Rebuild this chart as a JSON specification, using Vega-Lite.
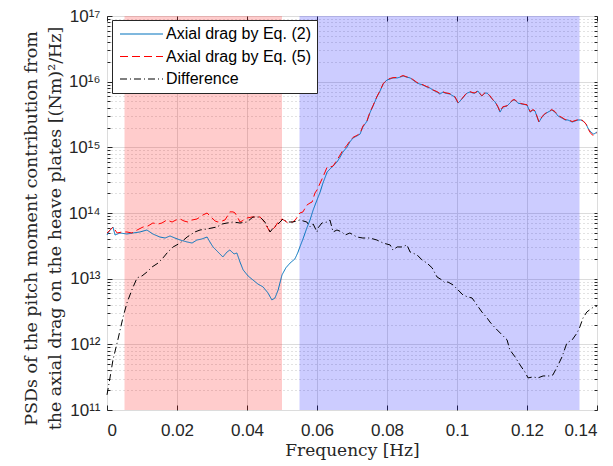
{
"$schema":"https://vega.github.io/schema/vega-lite/v6.json",
"width":490,"height":394,
"autosize":"none",
"padding":{"left":107,"top":16,"right":16,"bottom":56},
"background":"white",
"config":{"view":{"stroke":"#262626","strokeWidth":1},
 "axis":{"labelFont":"Liberation Sans","labelFontSize":17,"labelColor":"#262626","tickColor":"#262626","domain":false,"titleFont":"DejaVu Serif","titleFontSize":17,"titleFontWeight":"normal","titleColor":"#262626"},
 "legend":{"orient":"none","legendX":5,"legendY":4,"title":null,"labelFont":"Liberation Sans","labelFontSize":16,"labelColor":"#000000","strokeColor":"#262626","fillColor":"white","padding":6,"symbolType":"M-4.3,0H4.3","symbolSize":100,"symbolStrokeWidth":1.2,"symbolOffset":15.5,"labelOffset":16.5,"rowPadding":6.5,"cornerRadius":0}},
"datasets":{
"regions":[{"band":"low","start":0.005,"end":0.05},{"band":"high","start":0.055,"end":0.135}],
"psd":[
{"s":"Axial drag by Eq. (2)","f":0,"p":4.62e13},{"s":"Axial drag by Eq. (2)","f":0.0009,"p":5.51e13},{"s":"Axial drag by Eq. (2)","f":0.0017,"p":6.12e13},{"s":"Axial drag by Eq. (2)","f":0.0023,"p":4.62e13},{"s":"Axial drag by Eq. (2)","f":0.0037,"p":4.96e13},{"s":"Axial drag by Eq. (2)","f":0.0057,"p":4.79e13},{"s":"Axial drag by Eq. (2)","f":0.0074,"p":4.96e13},{"s":"Axial drag by Eq. (2)","f":0.0094,"p":5.14e13},{"s":"Axial drag by Eq. (2)","f":0.0114,"p":5.51e13},{"s":"Axial drag by Eq. (2)","f":0.0131,"p":4.79e13},{"s":"Axial drag by Eq. (2)","f":0.0151,"p":4.31e13},{"s":"Axial drag by Eq. (2)","f":0.0166,"p":4.16e13},{"s":"Axial drag by Eq. (2)","f":0.018,"p":4.47e13},{"s":"Axial drag by Eq. (2)","f":0.0194,"p":4.16e13},{"s":"Axial drag by Eq. (2)","f":0.0209,"p":3.88e13},{"s":"Axial drag by Eq. (2)","f":0.0229,"p":3.62e13},{"s":"Axial drag by Eq. (2)","f":0.0243,"p":3.49e13},{"s":"Axial drag by Eq. (2)","f":0.0257,"p":3.88e13},{"s":"Axial drag by Eq. (2)","f":0.0271,"p":4.02e13},{"s":"Axial drag by Eq. (2)","f":0.0286,"p":4.31e13},{"s":"Axial drag by Eq. (2)","f":0.0294,"p":3.62e13},{"s":"Axial drag by Eq. (2)","f":0.0303,"p":3.04e13},{"s":"Axial drag by Eq. (2)","f":0.0317,"p":2.55e13},{"s":"Axial drag by Eq. (2)","f":0.0331,"p":2.14e13},{"s":"Axial drag by Eq. (2)","f":0.0343,"p":2.55e13},{"s":"Axial drag by Eq. (2)","f":0.0351,"p":2.73e13},{"s":"Axial drag by Eq. (2)","f":0.0363,"p":2.38e13},{"s":"Axial drag by Eq. (2)","f":0.0371,"p":2.46e13},{"s":"Axial drag by Eq. (2)","f":0.038,"p":1.79e13},{"s":"Axial drag by Eq. (2)","f":0.0389,"p":1.36e13},{"s":"Axial drag by Eq. (2)","f":0.0403,"p":1.10e13},{"s":"Axial drag by Eq. (2)","f":0.0417,"p":9.55e12},{"s":"Axial drag by Eq. (2)","f":0.0431,"p":8.30e12},{"s":"Axial drag by Eq. (2)","f":0.0446,"p":7.48e12},{"s":"Axial drag by Eq. (2)","f":0.046,"p":6.06e12},{"s":"Axial drag by Eq. (2)","f":0.0471,"p":4.74e12},{"s":"Axial drag by Eq. (2)","f":0.048,"p":5.08e12},{"s":"Axial drag by Eq. (2)","f":0.0489,"p":6.73e12},{"s":"Axial drag by Eq. (2)","f":0.05,"p":1.14e13},{"s":"Axial drag by Eq. (2)","f":0.0511,"p":1.46e13},{"s":"Axial drag by Eq. (2)","f":0.0523,"p":1.73e13},{"s":"Axial drag by Eq. (2)","f":0.0537,"p":2.00e13},{"s":"Axial drag by Eq. (2)","f":0.0546,"p":2.55e13},{"s":"Axial drag by Eq. (2)","f":0.0551,"p":3.04e13},{"s":"Axial drag by Eq. (2)","f":0.056,"p":4.02e13},{"s":"Axial drag by Eq. (2)","f":0.0571,"p":5.92e13},{"s":"Axial drag by Eq. (2)","f":0.058,"p":7.82e13},{"s":"Axial drag by Eq. (2)","f":0.0589,"p":1.11e14},{"s":"Axial drag by Eq. (2)","f":0.06,"p":1.58e14},{"s":"Axial drag by Eq. (2)","f":0.0609,"p":2.09e14},{"s":"Axial drag by Eq. (2)","f":0.0617,"p":2.86e14},{"s":"Axial drag by Eq. (2)","f":0.0629,"p":4.21e14},{"s":"Axial drag by Eq. (2)","f":0.0637,"p":4.67e14},{"s":"Axial drag by Eq. (2)","f":0.0646,"p":5.19e14},{"s":"Axial drag by Eq. (2)","f":0.0657,"p":5.97e14},{"s":"Axial drag by Eq. (2)","f":0.0666,"p":7.11e14},{"s":"Axial drag by Eq. (2)","f":0.0674,"p":8.48e14},{"s":"Axial drag by Eq. (2)","f":0.0686,"p":1.01e15},{"s":"Axial drag by Eq. (2)","f":0.0694,"p":1.21e15},{"s":"Axial drag by Eq. (2)","f":0.0703,"p":1.39e15},{"s":"Axial drag by Eq. (2)","f":0.0714,"p":1.49e15},{"s":"Axial drag by Eq. (2)","f":0.0723,"p":1.59e15},{"s":"Axial drag by Eq. (2)","f":0.0731,"p":2.04e15},{"s":"Axial drag by Eq. (2)","f":0.0743,"p":2.51e15},{"s":"Axial drag by Eq. (2)","f":0.0751,"p":3.33e15},{"s":"Axial drag by Eq. (2)","f":0.076,"p":4.26e15},{"s":"Axial drag by Eq. (2)","f":0.0771,"p":5.83e15},{"s":"Axial drag by Eq. (2)","f":0.078,"p":7.19e15},{"s":"Axial drag by Eq. (2)","f":0.0789,"p":9.19e15},{"s":"Axial drag by Eq. (2)","f":0.0794,"p":9.86e15},{"s":"Axial drag by Eq. (2)","f":0.08,"p":1.06e16},{"s":"Axial drag by Eq. (2)","f":0.0809,"p":1.10e16},{"s":"Axial drag by Eq. (2)","f":0.0817,"p":1.14e16},{"s":"Axial drag by Eq. (2)","f":0.0829,"p":1.14e16},{"s":"Axial drag by Eq. (2)","f":0.0837,"p":1.17e16},{"s":"Axial drag by Eq. (2)","f":0.0846,"p":1.22e16},{"s":"Axial drag by Eq. (2)","f":0.0857,"p":1.17e16},{"s":"Axial drag by Eq. (2)","f":0.0866,"p":1.14e16},{"s":"Axial drag by Eq. (2)","f":0.0874,"p":1.06e16},{"s":"Axial drag by Eq. (2)","f":0.0886,"p":9.53e15},{"s":"Axial drag by Eq. (2)","f":0.0894,"p":9.19e15},{"s":"Axial drag by Eq. (2)","f":0.0903,"p":8.87e15},{"s":"Axial drag by Eq. (2)","f":0.0914,"p":8.28e15},{"s":"Axial drag by Eq. (2)","f":0.0923,"p":8.00e15},{"s":"Axial drag by Eq. (2)","f":0.0931,"p":7.45e15},{"s":"Axial drag by Eq. (2)","f":0.0943,"p":6.95e15},{"s":"Axial drag by Eq. (2)","f":0.0951,"p":6.47e15},{"s":"Axial drag by Eq. (2)","f":0.096,"p":6.95e15},{"s":"Axial drag by Eq. (2)","f":0.0966,"p":6.70e15},{"s":"Axial drag by Eq. (2)","f":0.098,"p":6.47e15},{"s":"Axial drag by Eq. (2)","f":0.0994,"p":5.83e15},{"s":"Axial drag by Eq. (2)","f":0.1003,"p":4.72e15},{"s":"Axial drag by Eq. (2)","f":0.1014,"p":5.43e15},{"s":"Axial drag by Eq. (2)","f":0.1023,"p":6.25e15},{"s":"Axial drag by Eq. (2)","f":0.1029,"p":6.70e15},{"s":"Axial drag by Eq. (2)","f":0.1037,"p":6.95e15},{"s":"Axial drag by Eq. (2)","f":0.1046,"p":6.70e15},{"s":"Axial drag by Eq. (2)","f":0.1051,"p":6.70e15},{"s":"Axial drag by Eq. (2)","f":0.106,"p":7.19e15},{"s":"Axial drag by Eq. (2)","f":0.1066,"p":6.47e15},{"s":"Axial drag by Eq. (2)","f":0.1071,"p":6.04e15},{"s":"Axial drag by Eq. (2)","f":0.108,"p":6.70e15},{"s":"Axial drag by Eq. (2)","f":0.1086,"p":6.70e15},{"s":"Axial drag by Eq. (2)","f":0.1094,"p":6.04e15},{"s":"Axial drag by Eq. (2)","f":0.11,"p":5.43e15},{"s":"Axial drag by Eq. (2)","f":0.1109,"p":4.89e15},{"s":"Axial drag by Eq. (2)","f":0.1117,"p":4.10e15},{"s":"Axial drag by Eq. (2)","f":0.1123,"p":3.44e15},{"s":"Axial drag by Eq. (2)","f":0.1131,"p":4.10e15},{"s":"Axial drag by Eq. (2)","f":0.1143,"p":4.26e15},{"s":"Axial drag by Eq. (2)","f":0.1151,"p":4.72e15},{"s":"Axial drag by Eq. (2)","f":0.116,"p":5.25e15},{"s":"Axial drag by Eq. (2)","f":0.1166,"p":5.25e15},{"s":"Axial drag by Eq. (2)","f":0.1174,"p":4.72e15},{"s":"Axial drag by Eq. (2)","f":0.1186,"p":4.56e15},{"s":"Axial drag by Eq. (2)","f":0.12,"p":4.41e15},{"s":"Axial drag by Eq. (2)","f":0.1209,"p":3.44e15},{"s":"Axial drag by Eq. (2)","f":0.1217,"p":3.70e15},{"s":"Axial drag by Eq. (2)","f":0.1223,"p":3.57e15},{"s":"Axial drag by Eq. (2)","f":0.1234,"p":2.43e15},{"s":"Axial drag by Eq. (2)","f":0.1243,"p":2.89e15},{"s":"Axial drag by Eq. (2)","f":0.1251,"p":3.21e15},{"s":"Axial drag by Eq. (2)","f":0.126,"p":3.44e15},{"s":"Axial drag by Eq. (2)","f":0.1271,"p":3.70e15},{"s":"Axial drag by Eq. (2)","f":0.128,"p":3.44e15},{"s":"Axial drag by Eq. (2)","f":0.1289,"p":2.99e15},{"s":"Axial drag by Eq. (2)","f":0.13,"p":2.79e15},{"s":"Axial drag by Eq. (2)","f":0.1309,"p":2.61e15},{"s":"Axial drag by Eq. (2)","f":0.1317,"p":2.61e15},{"s":"Axial drag by Eq. (2)","f":0.1329,"p":2.43e15},{"s":"Axial drag by Eq. (2)","f":0.1337,"p":2.51e15},{"s":"Axial drag by Eq. (2)","f":0.1346,"p":2.61e15},{"s":"Axial drag by Eq. (2)","f":0.1354,"p":2.61e15},{"s":"Axial drag by Eq. (2)","f":0.136,"p":2.51e15},{"s":"Axial drag by Eq. (2)","f":0.1369,"p":2.26e15},{"s":"Axial drag by Eq. (2)","f":0.1374,"p":1.97e15},{"s":"Axial drag by Eq. (2)","f":0.138,"p":1.77e15},{"s":"Axial drag by Eq. (2)","f":0.1386,"p":1.65e15},{"s":"Axial drag by Eq. (2)","f":0.1391,"p":1.59e15},{"s":"Axial drag by Eq. (2)","f":0.14,"p":1.71e15},
{"s":"Axial drag by Eq. (5)","f":0,"p":4.96e13},{"s":"Axial drag by Eq. (5)","f":0.0009,"p":5.51e13},{"s":"Axial drag by Eq. (5)","f":0.0017,"p":6.12e13},{"s":"Axial drag by Eq. (5)","f":0.0029,"p":4.96e13},{"s":"Axial drag by Eq. (5)","f":0.0043,"p":5.14e13},{"s":"Axial drag by Eq. (5)","f":0.0057,"p":5.14e13},{"s":"Axial drag by Eq. (5)","f":0.0071,"p":4.96e13},{"s":"Axial drag by Eq. (5)","f":0.0086,"p":5.51e13},{"s":"Axial drag by Eq. (5)","f":0.0103,"p":6.12e13},{"s":"Axial drag by Eq. (5)","f":0.0117,"p":6.34e13},{"s":"Axial drag by Eq. (5)","f":0.0131,"p":7.04e13},{"s":"Axial drag by Eq. (5)","f":0.0146,"p":6.80e13},{"s":"Axial drag by Eq. (5)","f":0.0157,"p":7.04e13},{"s":"Axial drag by Eq. (5)","f":0.0171,"p":7.82e13},{"s":"Axial drag by Eq. (5)","f":0.0186,"p":7.29e13},{"s":"Axial drag by Eq. (5)","f":0.0197,"p":7.82e13},{"s":"Axial drag by Eq. (5)","f":0.0209,"p":8.11e13},{"s":"Axial drag by Eq. (5)","f":0.022,"p":7.55e13},{"s":"Axial drag by Eq. (5)","f":0.0231,"p":7.29e13},{"s":"Axial drag by Eq. (5)","f":0.0243,"p":7.82e13},{"s":"Axial drag by Eq. (5)","f":0.0257,"p":8.11e13},{"s":"Axial drag by Eq. (5)","f":0.0266,"p":8.69e13},{"s":"Axial drag by Eq. (5)","f":0.0274,"p":9.33e13},{"s":"Axial drag by Eq. (5)","f":0.0286,"p":1.0e14},{"s":"Axial drag by Eq. (5)","f":0.0294,"p":9.00e13},{"s":"Axial drag by Eq. (5)","f":0.03,"p":8.39e13},{"s":"Axial drag by Eq. (5)","f":0.0309,"p":7.55e13},{"s":"Axial drag by Eq. (5)","f":0.0317,"p":7.29e13},{"s":"Axial drag by Eq. (5)","f":0.0329,"p":7.55e13},{"s":"Axial drag by Eq. (5)","f":0.0337,"p":7.82e13},{"s":"Axial drag by Eq. (5)","f":0.0346,"p":9.33e13},{"s":"Axial drag by Eq. (5)","f":0.0351,"p":1.04e14},{"s":"Axial drag by Eq. (5)","f":0.036,"p":1.04e14},{"s":"Axial drag by Eq. (5)","f":0.0366,"p":1.0e14},{"s":"Axial drag by Eq. (5)","f":0.0374,"p":8.39e13},{"s":"Axial drag by Eq. (5)","f":0.038,"p":7.29e13},{"s":"Axial drag by Eq. (5)","f":0.0391,"p":7.82e13},{"s":"Axial drag by Eq. (5)","f":0.04,"p":8.39e13},{"s":"Axial drag by Eq. (5)","f":0.0414,"p":8.69e13},{"s":"Axial drag by Eq. (5)","f":0.0429,"p":8.69e13},{"s":"Axial drag by Eq. (5)","f":0.0437,"p":8.69e13},{"s":"Axial drag by Eq. (5)","f":0.0446,"p":7.82e13},{"s":"Axial drag by Eq. (5)","f":0.0454,"p":6.57e13},{"s":"Axial drag by Eq. (5)","f":0.0466,"p":5.14e13},{"s":"Axial drag by Eq. (5)","f":0.0474,"p":5.71e13},{"s":"Axial drag by Eq. (5)","f":0.048,"p":6.12e13},{"s":"Axial drag by Eq. (5)","f":0.0489,"p":7.29e13},{"s":"Axial drag by Eq. (5)","f":0.05,"p":8.11e13},{"s":"Axial drag by Eq. (5)","f":0.0509,"p":7.55e13},{"s":"Axial drag by Eq. (5)","f":0.0517,"p":7.04e13},{"s":"Axial drag by Eq. (5)","f":0.0526,"p":7.29e13},{"s":"Axial drag by Eq. (5)","f":0.0531,"p":7.29e13},{"s":"Axial drag by Eq. (5)","f":0.054,"p":8.11e13},{"s":"Axial drag by Eq. (5)","f":0.0551,"p":1.0e14},{"s":"Axial drag by Eq. (5)","f":0.056,"p":1.04e14},{"s":"Axial drag by Eq. (5)","f":0.0566,"p":1.19e14},{"s":"Axial drag by Eq. (5)","f":0.0571,"p":1.32e14},{"s":"Axial drag by Eq. (5)","f":0.058,"p":1.42e14},{"s":"Axial drag by Eq. (5)","f":0.0586,"p":1.47e14},{"s":"Axial drag by Eq. (5)","f":0.0594,"p":2.01e14},{"s":"Axial drag by Eq. (5)","f":0.06,"p":2.24e14},{"s":"Axial drag by Eq. (5)","f":0.0609,"p":2.86e14},{"s":"Axial drag by Eq. (5)","f":0.0617,"p":3.53e14},{"s":"Axial drag by Eq. (5)","f":0.0629,"p":5.01e14},{"s":"Axial drag by Eq. (5)","f":0.0637,"p":5.01e14},{"s":"Axial drag by Eq. (5)","f":0.0646,"p":5.19e14},{"s":"Axial drag by Eq. (5)","f":0.0657,"p":6.41e14},{"s":"Axial drag by Eq. (5)","f":0.0666,"p":7.64e14},{"s":"Axial drag by Eq. (5)","f":0.0674,"p":9.10e14},{"s":"Axial drag by Eq. (5)","f":0.0686,"p":1.08e15},{"s":"Axial drag by Eq. (5)","f":0.0694,"p":1.25e15},{"s":"Axial drag by Eq. (5)","f":0.0703,"p":1.42e15},{"s":"Axial drag by Eq. (5)","f":0.0714,"p":1.52e15},{"s":"Axial drag by Eq. (5)","f":0.0723,"p":1.63e15},{"s":"Axial drag by Eq. (5)","f":0.0731,"p":2.10e15},{"s":"Axial drag by Eq. (5)","f":0.0743,"p":2.55e15},{"s":"Axial drag by Eq. (5)","f":0.0751,"p":3.40e15},{"s":"Axial drag by Eq. (5)","f":0.076,"p":4.30e15},{"s":"Axial drag by Eq. (5)","f":0.0771,"p":5.90e15},{"s":"Axial drag by Eq. (5)","f":0.078,"p":7.25e15},{"s":"Axial drag by Eq. (5)","f":0.0789,"p":9.30e15},{"s":"Axial drag by Eq. (5)","f":0.0794,"p":9.95e15},{"s":"Axial drag by Eq. (5)","f":0.08,"p":1.07e16},{"s":"Axial drag by Eq. (5)","f":0.0809,"p":1.12e16},{"s":"Axial drag by Eq. (5)","f":0.0817,"p":1.15e16},{"s":"Axial drag by Eq. (5)","f":0.0829,"p":1.16e16},{"s":"Axial drag by Eq. (5)","f":0.0837,"p":1.19e16},{"s":"Axial drag by Eq. (5)","f":0.0846,"p":1.24e16},{"s":"Axial drag by Eq. (5)","f":0.0857,"p":1.18e16},{"s":"Axial drag by Eq. (5)","f":0.0866,"p":1.15e16},{"s":"Axial drag by Eq. (5)","f":0.0874,"p":1.08e16},{"s":"Axial drag by Eq. (5)","f":0.0886,"p":9.70e15},{"s":"Axial drag by Eq. (5)","f":0.0894,"p":9.30e15},{"s":"Axial drag by Eq. (5)","f":0.0903,"p":8.95e15},{"s":"Axial drag by Eq. (5)","f":0.0914,"p":8.40e15},{"s":"Axial drag by Eq. (5)","f":0.0923,"p":8.10e15},{"s":"Axial drag by Eq. (5)","f":0.0931,"p":7.50e15},{"s":"Axial drag by Eq. (5)","f":0.0943,"p":7.05e15},{"s":"Axial drag by Eq. (5)","f":0.0951,"p":6.60e15},{"s":"Axial drag by Eq. (5)","f":0.096,"p":7.00e15},{"s":"Axial drag by Eq. (5)","f":0.0966,"p":6.80e15},{"s":"Axial drag by Eq. (5)","f":0.098,"p":6.55e15},{"s":"Axial drag by Eq. (5)","f":0.0994,"p":5.90e15},{"s":"Axial drag by Eq. (5)","f":0.1003,"p":4.80e15},{"s":"Axial drag by Eq. (5)","f":0.1014,"p":5.50e15},{"s":"Axial drag by Eq. (5)","f":0.1023,"p":6.30e15},{"s":"Axial drag by Eq. (5)","f":0.1029,"p":6.80e15},{"s":"Axial drag by Eq. (5)","f":0.1037,"p":7.05e15},{"s":"Axial drag by Eq. (5)","f":0.1046,"p":6.80e15},{"s":"Axial drag by Eq. (5)","f":0.1051,"p":6.75e15},{"s":"Axial drag by Eq. (5)","f":0.106,"p":7.30e15},{"s":"Axial drag by Eq. (5)","f":0.1066,"p":6.55e15},{"s":"Axial drag by Eq. (5)","f":0.1071,"p":6.10e15},{"s":"Axial drag by Eq. (5)","f":0.108,"p":6.80e15},{"s":"Axial drag by Eq. (5)","f":0.1086,"p":6.75e15},{"s":"Axial drag by Eq. (5)","f":0.1094,"p":6.10e15},{"s":"Axial drag by Eq. (5)","f":0.11,"p":5.50e15},{"s":"Axial drag by Eq. (5)","f":0.1109,"p":4.95e15},{"s":"Axial drag by Eq. (5)","f":0.1117,"p":4.15e15},{"s":"Axial drag by Eq. (5)","f":0.1123,"p":3.50e15},{"s":"Axial drag by Eq. (5)","f":0.1131,"p":4.15e15},{"s":"Axial drag by Eq. (5)","f":0.1143,"p":4.30e15},{"s":"Axial drag by Eq. (5)","f":0.1151,"p":4.80e15},{"s":"Axial drag by Eq. (5)","f":0.116,"p":5.30e15},{"s":"Axial drag by Eq. (5)","f":0.1166,"p":5.30e15},{"s":"Axial drag by Eq. (5)","f":0.1174,"p":4.80e15},{"s":"Axial drag by Eq. (5)","f":0.1186,"p":4.60e15},{"s":"Axial drag by Eq. (5)","f":0.12,"p":4.45e15},{"s":"Axial drag by Eq. (5)","f":0.1209,"p":3.50e15},{"s":"Axial drag by Eq. (5)","f":0.1217,"p":3.75e15},{"s":"Axial drag by Eq. (5)","f":0.1223,"p":3.60e15},{"s":"Axial drag by Eq. (5)","f":0.1234,"p":2.45e15},{"s":"Axial drag by Eq. (5)","f":0.1243,"p":2.95e15},{"s":"Axial drag by Eq. (5)","f":0.1251,"p":3.25e15},{"s":"Axial drag by Eq. (5)","f":0.126,"p":3.50e15},{"s":"Axial drag by Eq. (5)","f":0.1271,"p":3.75e15},{"s":"Axial drag by Eq. (5)","f":0.128,"p":3.50e15},{"s":"Axial drag by Eq. (5)","f":0.1289,"p":3.05e15},{"s":"Axial drag by Eq. (5)","f":0.13,"p":2.85e15},{"s":"Axial drag by Eq. (5)","f":0.1309,"p":2.65e15},{"s":"Axial drag by Eq. (5)","f":0.1317,"p":2.65e15},{"s":"Axial drag by Eq. (5)","f":0.1329,"p":2.47e15},{"s":"Axial drag by Eq. (5)","f":0.1337,"p":2.55e15},{"s":"Axial drag by Eq. (5)","f":0.1346,"p":2.65e15},{"s":"Axial drag by Eq. (5)","f":0.1354,"p":2.63e15},{"s":"Axial drag by Eq. (5)","f":0.136,"p":2.55e15},{"s":"Axial drag by Eq. (5)","f":0.1369,"p":2.25e15},{"s":"Axial drag by Eq. (5)","f":0.1374,"p":1.93e15},{"s":"Axial drag by Eq. (5)","f":0.138,"p":1.70e15},{"s":"Axial drag by Eq. (5)","f":0.1386,"p":1.55e15},{"s":"Axial drag by Eq. (5)","f":0.1391,"p":1.52e15},{"s":"Axial drag by Eq. (5)","f":0.14,"p":1.68e15},
{"s":"Difference","f":0,"p":1.70e11},{"s":"Difference","f":0.0009,"p":3.19e11},{"s":"Difference","f":0.0017,"p":5.79e11},{"s":"Difference","f":0.0031,"p":1.17e12},{"s":"Difference","f":0.0046,"p":2.61e12},{"s":"Difference","f":0.0057,"p":4.27e12},{"s":"Difference","f":0.0071,"p":6.73e12},{"s":"Difference","f":0.0086,"p":1.03e13},{"s":"Difference","f":0.01,"p":1.10e13},{"s":"Difference","f":0.0114,"p":1.26e13},{"s":"Difference","f":0.0129,"p":1.51e13},{"s":"Difference","f":0.0146,"p":1.73e13},{"s":"Difference","f":0.016,"p":2.07e13},{"s":"Difference","f":0.0174,"p":2.55e13},{"s":"Difference","f":0.0189,"p":3.04e13},{"s":"Difference","f":0.0209,"p":3.49e13},{"s":"Difference","f":0.0229,"p":4.31e13},{"s":"Difference","f":0.0251,"p":5.14e13},{"s":"Difference","f":0.0266,"p":5.51e13},{"s":"Difference","f":0.0286,"p":5.71e13},{"s":"Difference","f":0.03,"p":5.92e13},{"s":"Difference","f":0.0314,"p":6.12e13},{"s":"Difference","f":0.0329,"p":6.80e13},{"s":"Difference","f":0.0343,"p":7.04e13},{"s":"Difference","f":0.036,"p":7.29e13},{"s":"Difference","f":0.038,"p":7.04e13},{"s":"Difference","f":0.04,"p":7.29e13},{"s":"Difference","f":0.0417,"p":8.69e13},{"s":"Difference","f":0.0437,"p":8.69e13},{"s":"Difference","f":0.0451,"p":7.29e13},{"s":"Difference","f":0.0466,"p":5.14e13},{"s":"Difference","f":0.0477,"p":6.12e13},{"s":"Difference","f":0.0486,"p":6.57e13},{"s":"Difference","f":0.0503,"p":8.11e13},{"s":"Difference","f":0.0514,"p":7.29e13},{"s":"Difference","f":0.0531,"p":7.29e13},{"s":"Difference","f":0.0551,"p":7.82e13},{"s":"Difference","f":0.0571,"p":7.29e13},{"s":"Difference","f":0.058,"p":6.12e13},{"s":"Difference","f":0.0589,"p":6.80e13},{"s":"Difference","f":0.06,"p":5.14e13},{"s":"Difference","f":0.0603,"p":5.92e13},{"s":"Difference","f":0.0614,"p":7.04e13},{"s":"Difference","f":0.0629,"p":7.29e13},{"s":"Difference","f":0.0637,"p":7.82e13},{"s":"Difference","f":0.0646,"p":5.14e13},{"s":"Difference","f":0.0657,"p":5.51e13},{"s":"Difference","f":0.0671,"p":5.14e13},{"s":"Difference","f":0.068,"p":4.62e13},{"s":"Difference","f":0.0694,"p":4.96e13},{"s":"Difference","f":0.0714,"p":4.31e13},{"s":"Difference","f":0.0731,"p":4.16e13},{"s":"Difference","f":0.0751,"p":4.16e13},{"s":"Difference","f":0.0771,"p":3.88e13},{"s":"Difference","f":0.0789,"p":3.49e13},{"s":"Difference","f":0.0809,"p":3.26e13},{"s":"Difference","f":0.0817,"p":2.73e13},{"s":"Difference","f":0.0829,"p":3.04e13},{"s":"Difference","f":0.0843,"p":3.04e13},{"s":"Difference","f":0.0857,"p":3.26e13},{"s":"Difference","f":0.0866,"p":2.55e13},{"s":"Difference","f":0.0886,"p":2.30e13},{"s":"Difference","f":0.09,"p":1.93e13},{"s":"Difference","f":0.0914,"p":1.73e13},{"s":"Difference","f":0.0929,"p":1.46e13},{"s":"Difference","f":0.0943,"p":1.06e13},{"s":"Difference","f":0.0957,"p":9.55e12},{"s":"Difference","f":0.0966,"p":8.60e12},{"s":"Difference","f":0.0974,"p":8.91e12},{"s":"Difference","f":0.0989,"p":8.02e12},{"s":"Difference","f":0.1003,"p":6.73e12},{"s":"Difference","f":0.1017,"p":5.65e12},{"s":"Difference","f":0.1031,"p":5.26e12},{"s":"Difference","f":0.1043,"p":5.08e12},{"s":"Difference","f":0.1057,"p":3.98e12},{"s":"Difference","f":0.1071,"p":3.11e12},{"s":"Difference","f":0.1086,"p":2.52e12},{"s":"Difference","f":0.1094,"p":2.19e12},{"s":"Difference","f":0.1109,"p":1.78e12},{"s":"Difference","f":0.1129,"p":1.39e12},{"s":"Difference","f":0.1143,"p":1.17e12},{"s":"Difference","f":0.1151,"p":8.22e11},{"s":"Difference","f":0.1166,"p":6.43e11},{"s":"Difference","f":0.118,"p":4.86e11},{"s":"Difference","f":0.1194,"p":3.80e11},{"s":"Difference","f":0.1203,"p":3.08e11},{"s":"Difference","f":0.1217,"p":3.19e11},{"s":"Difference","f":0.1231,"p":3.08e11},{"s":"Difference","f":0.1246,"p":3.30e11},{"s":"Difference","f":0.1266,"p":3.30e11},{"s":"Difference","f":0.1274,"p":3.42e11},{"s":"Difference","f":0.1289,"p":4.86e11},{"s":"Difference","f":0.13,"p":6.43e11},{"s":"Difference","f":0.1314,"p":1.05e12},{"s":"Difference","f":0.1329,"p":1.17e12},{"s":"Difference","f":0.1343,"p":1.49e12},{"s":"Difference","f":0.1351,"p":1.84e12},{"s":"Difference","f":0.136,"p":2.52e12},{"s":"Difference","f":0.1371,"p":3.11e12},{"s":"Difference","f":0.1386,"p":3.58e12},{"s":"Difference","f":0.14,"p":3.84e12}
]},
"layer":[
{"data":{"name":"regions"},"mark":{"type":"rect","opacity":0.2},
 "encoding":{
  "x":{"field":"start","type":"quantitative","scale":{"domain":[0,0.14],"nice":false,"zero":false},"axis":{"orient":"top","values":[0,0.02,0.04,0.06,0.08,0.1,0.12,0.14],"labels":false,"grid":false,"tickSize":-5,"title":null}},
  "x2":{"field":"end"},
  "fill":{"field":"band","type":"nominal","scale":{"domain":["low","high"],"range":["#ff0000","#0000ff"]},"legend":null}}},
{"data":{"name":"psd"},"mark":{"type":"line","opacity":0},
 "encoding":{
  "x":{"field":"f","type":"quantitative","scale":{"domain":[0,0.14],"nice":false,"zero":false},"axis":null},
  "y":{"field":"p","type":"quantitative","scale":{"type":"log","domain":[1e11,1e17],"nice":false},"axis":{"orient":"left","values":[2e11,3e11,4e11,5e11,6e11,7e11,8e11,9e11,2e12,3e12,4e12,5e12,6e12,7e12,8e12,9e12,2e13,3e13,4e13,5e13,6e13,7e13,8e13,9e13,2e14,3e14,4e14,5e14,6e14,7e14,8e14,9e14,2e15,3e15,4e15,5e15,6e15,7e15,8e15,9e15,2e16,3e16,4e16,5e16,6e16,7e16,8e16,9e16],"labels":false,"grid":true,"gridDash":[1,3],"gridColor":"#c4c4c4","tickSize":-3,"title":null}},
  "detail":{"field":"s"}}},
{"data":{"name":"psd"},"mark":{"type":"line","opacity":0},
 "encoding":{
  "x":{"field":"f","type":"quantitative","scale":{"domain":[0,0.14],"nice":false,"zero":false},"axis":null},
  "y":{"field":"p","type":"quantitative","scale":{"type":"log","domain":[1e11,1e17],"nice":false},"axis":{"orient":"right","values":[1e11,2e11,3e11,4e11,5e11,6e11,7e11,8e11,9e11,1e12,2e12,3e12,4e12,5e12,6e12,7e12,8e12,9e12,1e13,2e13,3e13,4e13,5e13,6e13,7e13,8e13,9e13,1e14,2e14,3e14,4e14,5e14,6e14,7e14,8e14,9e14,1e15,2e15,3e15,4e15,5e15,6e15,7e15,8e15,9e15,1e16,2e16,3e16,4e16,5e16,6e16,7e16,8e16,9e16,1e17],"labels":false,"grid":false,"tickSize":-3,"title":null}},
  "detail":{"field":"s"}}},
{"data":{"name":"psd"},"mark":{"type":"line","strokeWidth":1},
 "encoding":{
  "x":{"field":"f","type":"quantitative","scale":{"domain":[0,0.14],"nice":false,"zero":false},"axis":{"orient":"bottom","values":[0,0.02,0.04,0.06,0.08,0.1,0.12,0.14],"format":"~g","grid":true,"gridColor":"#dcdcdc","tickSize":-5,"labelPadding":17,"title":"Frequency [Hz]","titlePadding":4}},
  "y":{"field":"p","type":"quantitative","scale":{"type":"log","domain":[1e11,1e17],"nice":false},"axis":{"orient":"left","values":[1e11,1e12,1e13,1e14,1e15,1e16,1e17],"labelExpr":"'10' + (datum.value > 5e16 ? '¹⁷' : datum.value > 5e15 ? '¹⁶' : datum.value > 5e14 ? '¹⁵' : datum.value > 5e13 ? '¹⁴' : datum.value > 5e12 ? '¹³' : datum.value > 5e11 ? '¹²' : '¹¹')","grid":true,"gridColor":"#dcdcdc","tickSize":-5,"labelPadding":12,"title":["PSDs of the pitch moment contribution from","the axial drag on the heave plates [(Nm)²/Hz]"],"titleFontSize":17.5,"titleLineHeight":24,"titlePadding":4,"titleY":212}},
  "color":{"field":"s","type":"nominal","scale":{"domain":["Axial drag by Eq. (2)","Axial drag by Eq. (5)","Difference"],"range":["#0072BD","#ff0000","#000000"]}},
  "strokeDash":{"field":"s","type":"nominal","scale":{"domain":["Axial drag by Eq. (2)","Axial drag by Eq. (5)","Difference"],"range":[[1,0],[8,4],[7,3,1,3]]}}}}
],
"resolve":{"axis":{"x":"independent","y":"independent"}}
}
